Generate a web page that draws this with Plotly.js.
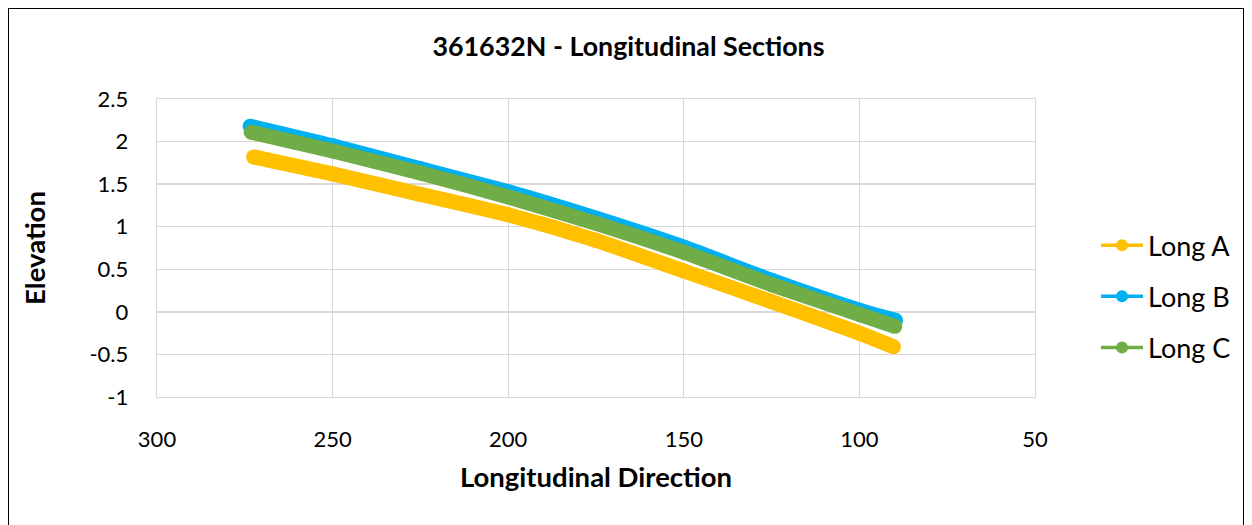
<!DOCTYPE html>
<html>
<head>
<meta charset="utf-8">
<script src="https://cdn.plot.ly/plotly-3.0.1.min.js"></script>
<style>
  html, body { margin: 0; padding: 0; background: #fff; }
  #frame { position: absolute; left: 8px; top: 8px; width: 1236px; height: 540px; border: 1px solid #000; box-sizing: border-box; }
  #chart { position: absolute; left: 0; top: 0; width: 1252px; height: 525px; }
</style>
</head>
<body>
<div id="frame"></div>
<div id="chart"></div>
<script>
// Data
const longA_x = [272.5, 250, 225, 200, 175, 150, 125, 100, 90.3];
const longA_y = [1.82, 1.62, 1.38, 1.14, 0.84, 0.48, 0.12, -0.25, -0.41];

const longB_x = [273.5, 250, 225, 200, 175, 150, 125, 100, 89.7];
const longB_y = [2.18, 1.95, 1.68, 1.41, 1.10, 0.76, 0.37, 0.02, -0.10];

const longC_x = [273.2, 250, 225, 200, 175, 150, 125, 100, 89.9];
const longC_y = [2.11, 1.89, 1.63, 1.35, 1.04, 0.70, 0.32, -0.03, -0.17];

const seriesNames = ["Long A", "Long B", "Long C"];
const seriesColors = ["#FFC000", "#00B0F0", "#70AD47"];

const xTicks = [300, 250, 200, 150, 100, 50];
const yTicks = [-1, -0.5, 0, 0.5, 1, 1.5, 2, 2.5];

const FONT = "Lato, 'Liberation Sans', sans-serif";

const seriesX = [longA_x, longB_x, longC_x];
const seriesY = [longA_y, longB_y, longC_y];

const traces = [];
// main thick traces (no legend)
for (let i = 0; i < 3; i++) {
  traces.push({
    type: "scatter", mode: "lines+markers",
    x: seriesX[i], y: seriesY[i],
    line: { color: seriesColors[i], width: 15, shape: "spline", smoothing: 0.6 },
    marker: { color: seriesColors[i], size: 15 },
    showlegend: false, hoverinfo: "skip"
  });
}
// legend entries
for (let i = 0; i < 3; i++) {
  traces.push({
    type: "scatter", mode: "lines+markers",
    x: [null], y: [null],
    name: seriesNames[i],
    legendgroup: "g" + i,
    line: { color: seriesColors[i], width: 3.5 },
    marker: { color: seriesColors[i], size: 12 },
    showlegend: true
  });
}

const layout = {
  width: 1252, height: 525,
  paper_bgcolor: "rgba(0,0,0,0)",
  plot_bgcolor: "#fff",
  margin: { l: 157, r: 217, t: 99, b: 128 },
  font: { family: FONT, color: "#000", size: 22 },
  title: {
    text: "<b>361632N - Longitudinal Sections</b>",
    font: { family: FONT, size: 26.8, color: "#000" },
    x: 0.537, xanchor: "center", xref: "paper",
    y: 1 - 47 / 525, yanchor: "middle", yref: "container"
  },
  xaxis: {
    range: [300, 50], tickvals: xTicks, ticktext: xTicks.map(String),
    showgrid: true, gridcolor: "#d9d9d9", gridwidth: 1.3,
    zeroline: false, showline: true, linecolor: "#d9d9d9", linewidth: 1.3, mirror: true,
    ticks: "", ticklabelstandoff: 22,
    tickfont: { family: FONT, size: 22, color: "#000" },
    title: { text: "<b>Longitudinal Direction</b>", font: { family: FONT, size: 27.5, color: "#000" }, standoff: 17 }
  },
  yaxis: {
    range: [-1, 2.5], tickvals: yTicks, ticktext: yTicks.map(String),
    showgrid: true, gridcolor: "#d9d9d9", gridwidth: 1.3,
    zeroline: false, showline: true, linecolor: "#d9d9d9", linewidth: 1.3, mirror: true,
    ticks: "", ticklabelstandoff: 23,
    tickfont: { family: FONT, size: 22, color: "#000" },
    title: { text: "<b>Elevation</b>", font: { family: FONT, size: 27.5, color: "#000" }, standoff: 35 }
  },
  legend: {
    x: 1.0695, xanchor: "left", y: 0.59, yanchor: "top",
    font: { family: FONT, size: 27, color: "#000" },
    traceorder: "grouped", tracegroupgap: 13,
    itemwidth: 42,
    bgcolor: "rgba(0,0,0,0)"
  },
  showlegend: true
};

Plotly.newPlot("chart", traces, layout, { staticPlot: true, displayModeBar: false });
</script>
</body>
</html>
